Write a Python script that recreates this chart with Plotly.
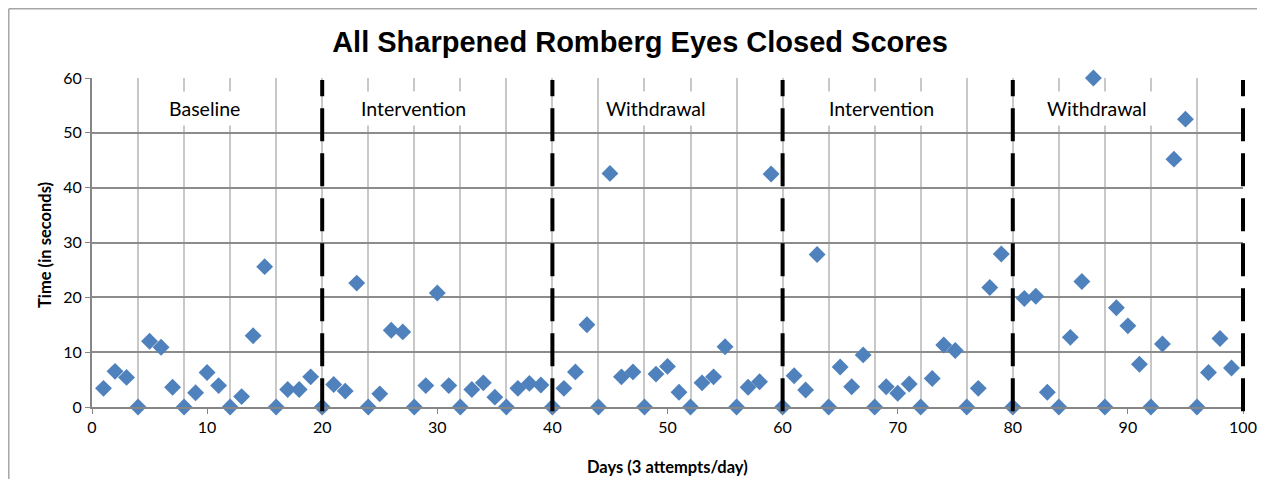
import plotly.graph_objects as go

# day index for each attempt and measured time (seconds)
days = list(range(1, 100))
times = [
    3.4, 6.5, 5.4, 0, 12.0, 10.9, 3.6, 0, 2.6, 6.3,
    3.9, 0, 1.9, 13.0, 25.6, 0, 3.2, 3.2, 5.5, 0,
    4.1, 2.9, 22.6, 0, 2.4, 14.0, 13.7, 0, 3.9, 20.8,
    3.9, 0, 3.2, 4.4, 1.8, 0, 3.4, 4.3, 4.0, 0,
    3.4, 6.4, 15.0, 0, 42.6, 5.5, 6.4, 0, 6.0, 7.4,
    2.7, 0, 4.4, 5.5, 11.0, 0, 3.6, 4.6, 42.5, 0,
    5.7, 3.1, 27.8, 0, 7.3, 3.7, 9.5, 0, 3.7, 2.5,
    4.2, 0, 5.2, 11.3, 10.3, 0, 3.4, 21.8, 27.9, 0,
    19.8, 20.2, 2.7, 0, 12.7, 22.9, 60.0, 0, 18.1, 14.8,
    7.8, 0, 11.5, 45.2, 52.5, 0, 6.3, 12.5, 7.1,
]

phase_bounds = [20, 40, 60, 80, 100]
phase_labels = ["Baseline", "Intervention", "Withdrawal", "Intervention", "Withdrawal"]
phase_label_x = [9.8, 27.9, 49.0, 68.6, 87.3]

x_range = [0, 100]
y_range = [0, 60]
x_ticks = [0, 10, 20, 30, 40, 50, 60, 70, 80, 90, 100]
y_ticks = [0, 10, 20, 30, 40, 50, 60]

FONT = "Lato, Calibri, sans-serif"

fig = go.Figure()

fig.add_trace(go.Scatter(
    x=days,
    y=times,
    mode="markers",
    marker=dict(symbol="diamond", size=13, color="#4F81BD"),
    cliponaxis=False,
    showlegend=False,
))

# phase change lines (paper refs so the last one isn't clipped at the edge)
for b in phase_bounds:
    px = (b - x_range[0]) / (x_range[1] - x_range[0])
    fig.add_shape(
        type="line", xref="paper", yref="paper",
        x0=px, x1=px, y0=-0.013, y1=0.994,
        line=dict(color="black", width=4, dash="33px,12px"),
        layer="above",
    )

for lbl, lx in zip(phase_labels, phase_label_x):
    fig.add_annotation(
        x=lx, y=54.5, xref="x", yref="y",
        text=lbl, showarrow=False,
        font=dict(family=FONT, size=19.5, color="black"),
        bgcolor="white", borderpad=5,
    )

# axis titles as annotations so the margins stay fixed
fig.add_annotation(
    x=0.5, y=-0.181, xref="paper", yref="paper",
    text="<b>Days (3 attempts/day)</b>", showarrow=False,
    xanchor="center", yanchor="middle", borderpad=0,
    font=dict(family=FONT, size=16.5, color="black"),
)
fig.add_annotation(
    x=-0.0408, y=0.4924, xref="paper", yref="paper",
    text="<b>Time (in seconds)</b>", showarrow=False, textangle=-90,
    xanchor="center", yanchor="middle",
    font=dict(family=FONT, size=16.5, color="black"),
)

# chart frame (only top and left edges are visible)
fig.add_shape(type="line", xref="paper", yref="paper",
              x0=-0.0723, x1=1.05, y0=1.2105, y1=1.2105,
              line=dict(color="#A6A6A6", width=1.5))
fig.add_shape(type="line", xref="paper", yref="paper",
              x0=-0.0723, x1=-0.0723, y0=1.2105, y1=-0.3,
              line=dict(color="#A6A6A6", width=1.5))

# page body has an 8px margin; keep the figure inside the window
fig.update_layout(
    width=1249,
    height=471,
    margin=dict(l=84, r=14, t=70, b=72, autoexpand=False),
    paper_bgcolor="white",
    plot_bgcolor="white",
    title=dict(
        text="<b>All Sharpened Romberg Eyes Closed Scores</b>",
        x=0.506, xanchor="center", y=0.928, yanchor="middle",
        font=dict(family="Liberation Sans, Arial, sans-serif", size=29, color="black"),
    ),
    xaxis=dict(
        range=x_range,
        tickvals=x_ticks,
        ticks="outside", ticklen=5, tickcolor="#868686",
        showgrid=False,
        minor=dict(dtick=4, tick0=0, showgrid=True, gridcolor="#C8C8C8", gridwidth=1.5),
        showline=True, linecolor="#868686", linewidth=2,
        zeroline=False, automargin=False,
        tickfont=dict(family=FONT, size=16, color="black"),
    ),
    yaxis=dict(
        range=y_range,
        tickvals=y_ticks,
        ticks="outside", ticklen=5, tickcolor="#868686",
        showgrid=True, gridcolor="#8C8C8C", gridwidth=1.5,
        showline=True, linecolor="#868686", linewidth=2,
        zeroline=False, automargin=False,
        tickfont=dict(family=FONT, size=16, color="black"),
    ),
)

fig.write_html("out.html")
